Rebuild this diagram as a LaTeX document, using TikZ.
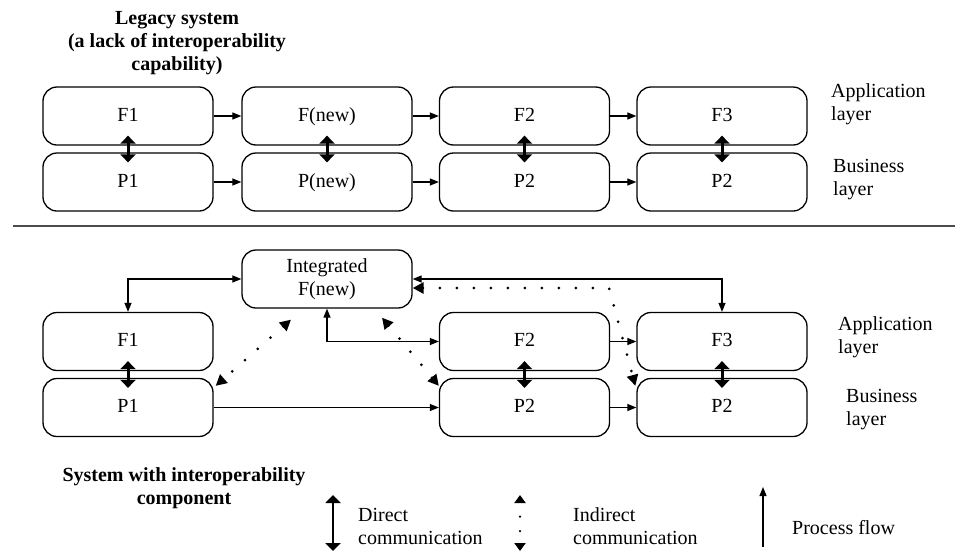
\documentclass[tikz,border=0pt]{standalone}
\usepackage{fontspec}
\setmainfont{Liberation Serif}
\usetikzlibrary{arrows.meta}
\begin{document}
\begin{tikzpicture}[x=1pt,y=-1pt,
  box/.style={draw, line width=1.3pt, rounded corners=14pt, minimum width=170pt,
    minimum height=58pt, inner sep=0pt, align=center, font=\fontsize{20}{23}\selectfont},
  onebox/.style={box, text height=14pt, text depth=4pt},
  label/.style={align=left, anchor=west, inner sep=0pt, font=\fontsize{20}{23}\selectfont},
  title/.style={align=center, inner sep=0pt, font=\bfseries\fontsize{20}{23}\selectfont},
  flow/.style={-{Triangle[length=9pt,width=7pt]}, line width=1.2pt},
  bidir/.style={{Triangle[length=9pt,width=7pt]}-{Triangle[length=9pt,width=7pt]}, line width=1.2pt},
  direct/.style={{Triangle[length=8pt,width=15pt]}-{Triangle[length=8pt,width=15pt]}, line width=3pt},
  indirect/.style={{Triangle[length=11pt,width=11pt]}-{Triangle[length=11pt,width=11pt]},
    line width=3pt, line cap=round, dash pattern=on 0pt off 17pt}]
\useasboundingbox (0,0) rectangle (955,552);

% ---------- legacy system ----------
\node[title] (legacy) at (177,43) {Legacy system\\(a lack of interoperability\\capability)};

\node[onebox] (F1)  at (128,116)   {F1};
\node[onebox] (Fn)  at (327,116)   {F(new)};
\node[onebox] (F2)  at (524.5,116) {F2};
\node[onebox] (F3)  at (722,116)   {F3};
\node[onebox] (P1)  at (128,182)   {P1};
\node[onebox] (Pn)  at (327,182)   {P(new)};
\node[onebox] (P2)  at (524.5,182) {P2};
\node[onebox] (P3)  at (722,182)   {P2};

\node[label] (app1) at (831,104) {Application\\layer};
\node[label] (bus1) at (833,180) {Business\\layer};

\draw[flow] (F1) -- (Fn);
\draw[flow] (Fn) -- (F2);
\draw[flow] (F2) -- (F3);
\draw[flow] (P1) -- (Pn);
\draw[flow] (Pn) -- (P2);
\draw[flow] (P2) -- (P3);

\foreach \a/\b in {F1/P1, Fn/Pn, F2/P2, F3/P3}
  \draw[direct] ([yshift=10pt]\a.south) -- ([yshift=-10pt]\b.north);

% ---------- separator ----------
\coordinate (sepL) at (13,226);
\coordinate (sepR) at (955,226);
\draw[line width=1.5pt, black!70] (sepL) -- (sepR);

% ---------- system with interoperability component ----------
\node[box] (Int) at (327,279) {Integrated\\F(new)};
\node[onebox] (bF1) at (128,341.5)   {F1};
\node[onebox] (bF2) at (524.5,341.5) {F2};
\node[onebox] (bF3) at (722,341.5)   {F3};
\node[onebox] (bP1) at (128,407.5)   {P1};
\node[onebox] (bP2) at (524.5,407.5) {P2};
\node[onebox] (bP3) at (722,407.5)   {P2};

\node[label] (app2) at (838,337) {Application\\layer};
\node[label] (bus2) at (846,410) {Business\\layer};

\draw[bidir] (bF1.north) |- (Int.west);
\draw[bidir] (Int.south) |- (bF2.west);
\draw[bidir] (Int.east) -| (bF3.north);
\draw[flow] (bP1) -- (bP2);
\draw[flow] (bF2) -- (bF3);
\draw[flow] (bP2) -- (bP3);

\foreach \a/\b in {bF1/bP1, bF2/bP2, bF3/bP3}
  \draw[direct] ([yshift=10pt]\a.south) -- ([yshift=-10pt]\b.north);

\coordinate (bend) at (609,288);
\draw[indirect] ([yshift=-9pt]Int.east) -- (bend) -- ([shift={(-1pt,-8pt)}]bP3.north west);
\draw[indirect] ([shift={(-36pt,-11pt)}]Int.south) -- ([shift={(2pt,-8pt)}]bP1.north east);
\draw[indirect] ([shift={(55pt,-9pt)}]Int.south) -- ([shift={(0pt,-8pt)}]bP2.north west);

\node[title] (system) at (184,488) {System with interoperability\\component};

% ---------- legend ----------
\coordinate (dTop) at (333,495);
\coordinate (dBot) at (333,551);
\draw[direct, line width=2.2pt] (dTop) -- (dBot);
\node[label] (dLab) at (358,526) {Direct\\communication};

\coordinate (iTop) at (520,495);
\coordinate (iBot) at (520,551);
\draw[{Triangle[length=8pt,width=11pt]}-{Triangle[length=8pt,width=11pt]},
  line width=2.5pt, line cap=round, dash pattern=on 0pt off 14.5pt, dash phase=0.5pt] (iTop) -- (iBot);
\node[label] (iLab) at (573,526) {Indirect\\communication};

\coordinate (pBot) at (763,547);
\coordinate (pTop) at (763,487);
\draw[flow] (pBot) -- (pTop);
\node[label] (pLab) at (792,528) {Process flow};
\end{tikzpicture}
\end{document}
